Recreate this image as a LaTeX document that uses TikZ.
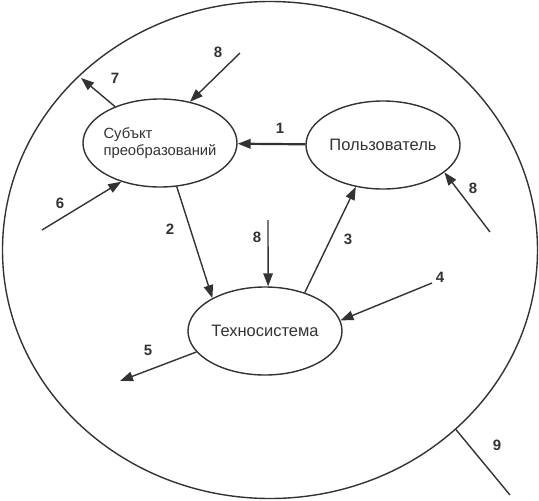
\documentclass[tikz,border=0pt]{standalone}
\usepackage{fontspec}
\setmainfont{Liberation Sans}
\usetikzlibrary{arrows.meta,shapes.geometric}
\definecolor{cLine}{HTML}{333333}
\tikzset{
  node-env/.style={draw=cLine,line width=1.4pt,ellipse,
    minimum width=535pt,minimum height=497pt,inner sep=0pt},
  node-part/.style={draw=cLine,line width=1.4pt,ellipse,
    minimum width=154pt,minimum height=88pt,inner sep=0pt},
  node-text/.style={align=left,inner sep=0pt,text=cLine,
    font=\fontsize{16.5}{17}\selectfont},
  node-num/.style={font=\bfseries\fontsize{15}{15}\selectfont,
    text=cLine,inner sep=0pt},
  arrow/.style={-{Triangle[length=13pt,width=9.5pt]},line width=1.4pt,draw=cLine},
  arrow-main/.style={arrow,line width=2.2pt},
  link/.style={line width=1.4pt,draw=cLine},
}
\begin{document}
\begin{tikzpicture}[x=1pt,y=-1pt]
  \useasboundingbox (0,0) rectangle (539,501);
  \node[node-env]  (env)  at (270,250) {};
  \node[node-part] (subj) at (160,143) {};
  \node[node-part] (user) at (383,145) {};
  \node[node-part] (tech) at (265,331) {};
  \node[node-text,font=\fontsize{14.8}{16.5}\selectfont] (subj-t) at (subj) {Субъкт\\преобразований};
  \node[node-text] (user-t) at (user) {Пользователь};
  \node[node-text] (tech-t) at (tech) {Техносистема};
  % free ends
  \coordinate (in-8a) at (240,53);
  \coordinate (in-8b) at (268,220);
  \coordinate (in-8c) at (490,232);
  \coordinate (in-4)  at (432,283);
  \coordinate (in-6)  at (42,230);
  \coordinate (out-5) at (120,381);
  \coordinate (out-7) at (81,78);
  \coordinate (end-9) at (510,495);
  % connectors
  \draw[arrow-main] (user) -- (subj);
  \draw[arrow] (subj.-69) -- (tech.148);
  \draw[arrow] (tech.44)  -- (user.-123);
  \draw[arrow] (in-8b) -- (tech.86);
  \draw[arrow] (in-4)  -- (tech.8);
  \draw[arrow] (tech.-163) -- (out-5);
  \draw[arrow] (in-6)  -- (subj.-135);
  \draw[arrow] (subj.141) -- (out-7);
  \draw[arrow] (in-8a) -- (subj.54);
  \draw[arrow] (in-8c) -- (user.-24);
  \draw[link]  (env.-44.5) -- (end-9);
  % numbers
  \node[node-num] (n1)  at (280,128) {1};
  \node[node-num] (n2)  at (170,229) {2};
  \node[node-num] (n3)  at (348,239) {3};
  \node[node-num] (n4)  at (440,277) {4};
  \node[node-num] (n5)  at (148,350) {5};
  \node[node-num] (n6)  at (60,203)  {6};
  \node[node-num] (n7)  at (115,78)  {7};
  \node[node-num] (n8a) at (218,52)  {8};
  \node[node-num] (n8b) at (257,237) {8};
  \node[node-num] (n8c) at (473,188) {8};
  \node[node-num] (n9)  at (497,445) {9};
\end{tikzpicture}
\end{document}
